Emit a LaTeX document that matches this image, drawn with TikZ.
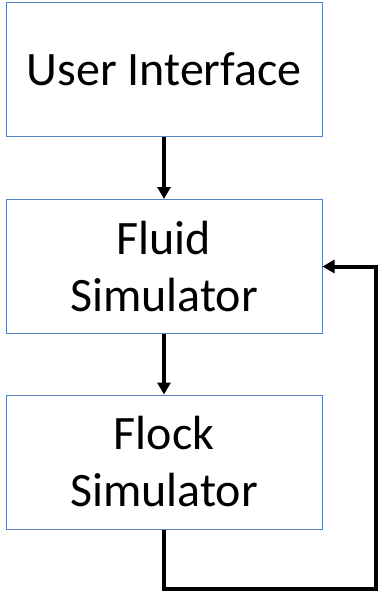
\documentclass[tikz,border=0pt]{standalone}
\usepackage{fontspec}
\setmainfont{Carlito}
\usetikzlibrary{arrows.meta}
\definecolor{boxline}{RGB}{84,130,190}
\begin{document}
\begin{tikzpicture}[
    x=1pt, y=1pt,
    block/.style={rectangle, draw=boxline, line width=1pt, minimum width=316pt, minimum height=134pt, align=center, font=\fontsize{48}{57}\selectfont},
    flow/.style={-{Triangle[length=12pt,width=13pt]}, line width=4pt}
]
    \useasboundingbox (0,0) rectangle (378,-599);
    % Blocks
    \node[block] (ui) at (164,-69.5) {User Interface};
    \node[block] (fluid) at (164,-266.5) {Fluid\\Simulator};
    \node[block] (flock) at (164,-462) {Flock\\Simulator};
    
    % Feedback corner points
    \coordinate (low) at (164,-589);
    \coordinate (far) at (376,-589);
    
    % Connections
    \draw[flow] (ui) -- (fluid);
    \draw[flow] (fluid) -- (flock);
    \draw[flow, line join=miter] (flock.south) -- (low) -- (far) |- (fluid.east);
\end{tikzpicture}
\end{document}
